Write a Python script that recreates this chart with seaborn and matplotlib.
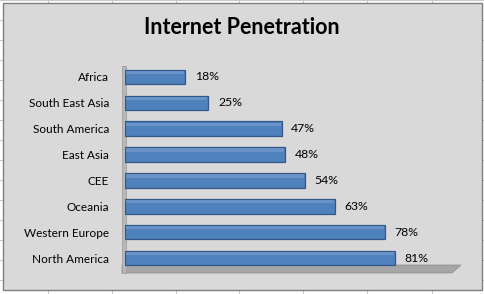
import matplotlib
matplotlib.use("Agg")
import matplotlib.pyplot as plt
from matplotlib.patches import Rectangle, Polygon
from matplotlib.lines import Line2D
import seaborn as sns
import pandas as pd

regions = ["Africa", "South East Asia", "South America", "East Asia", "CEE",
           "Oceania", "Western Europe", "North America"]
penetration = [18, 25, 47, 48, 54, 63, 78, 81]
value_labels = ["18%", "25%", "47%", "48%", "54%", "63%", "78%", "81%"]
title = "Internet Penetration"

df = pd.DataFrame({"region": regions, "pen": penetration})

sns.set_theme(style="white")
plt.rcParams["font.family"] = ["Lato", "DejaVu Sans"]

W, H = 485, 294
fig = plt.figure(figsize=(W / 100, H / 100), dpi=100)
fig.patch.set_facecolor("white")

def fx(px):
    return px / W

def fy(py):
    return 1 - py / H

# spreadsheet grid lines outside the chart
for gx in [48, 112, 176, 239, 303, 367, 432]:
    fig.add_artist(Line2D([fx(gx), fx(gx)], [0, 1], color="#c8c8c8", lw=0.8, zorder=0))
for gy in range(0, 300, 20):
    fig.add_artist(Line2D([0, 1], [fy(gy), fy(gy)], color="#c8c8c8", lw=0.8, zorder=0))

# chart area
fig.add_artist(Rectangle((fx(3), fy(290)), fx(479), 287 / H, facecolor="#d9d9d9",
                         edgecolor="#7f7f7f", lw=1.0, transform=fig.transFigure, zorder=1))

ax_l, ax_r, ax_t, ax_b = 125, 458, 64, 271
ax = fig.add_axes([fx(ax_l), fy(ax_b), (ax_r - ax_l) / W, (ax_b - ax_t) / H])
ax.set_zorder(2)
ax.patch.set_alpha(0)

sns.barplot(data=df, x="pen", y="region", orient="h", color="#4f81bd",
            edgecolor="#34578a", linewidth=0.9, width=0.56, saturation=1, ax=ax)

ax.set_xlim(0, 100)
ax.set_ylim(len(regions) - 0.5, -0.5)
ax.set_xlabel("")
ax.set_ylabel("")
ax.set_xticks([])
ax.tick_params(axis="y", length=0, pad=11.5, labelsize=8.5, labelcolor="#000000")
for s in ax.spines.values():
    s.set_visible(False)

# 3D-like highlight along the top of each bar
for p in list(ax.patches):
    x0, y0 = p.get_x(), p.get_y()
    w, h = p.get_width(), p.get_height()
    ax.add_patch(Rectangle((x0 + 0.3, y0 + 0.08 * h), w - 0.6, 0.22 * h,
                           facecolor="#7fa3d3", edgecolor="none", alpha=0.55, zorder=3))

def axx(px):
    return (px - ax_l) / (ax_r - ax_l)

def axy(py):
    return (ax_b - py) / (ax_b - ax_t)

# floor and wall (3D decoration)
floor = Polygon([(axx(122), axy(265)), (axx(461), axy(265)), (axx(452), axy(273)), (axx(122), axy(273))],
                closed=True, facecolor="#a6a6a6", edgecolor="#8c8c8c", lw=0.5,
                transform=ax.transAxes, clip_on=False, zorder=0)
ax.add_patch(floor)
wall = Rectangle((axx(122), axy(273)), axx(126) - axx(122), axy(66) - axy(273),
                 facecolor="#b8b8b8", edgecolor="#999999", lw=0.5,
                 transform=ax.transAxes, clip_on=False, zorder=0)
ax.add_patch(wall)

for cont in ax.containers:
    ax.bar_label(cont, labels=value_labels, padding=7, fontsize=8.8, color="#000000")

fig.text(fx(242), fy(27), title, ha="center", va="center", fontsize=15.5,
         fontweight="bold", color="#000000", zorder=3)

fig.savefig("out.png", dpi=100, facecolor=fig.get_facecolor())
